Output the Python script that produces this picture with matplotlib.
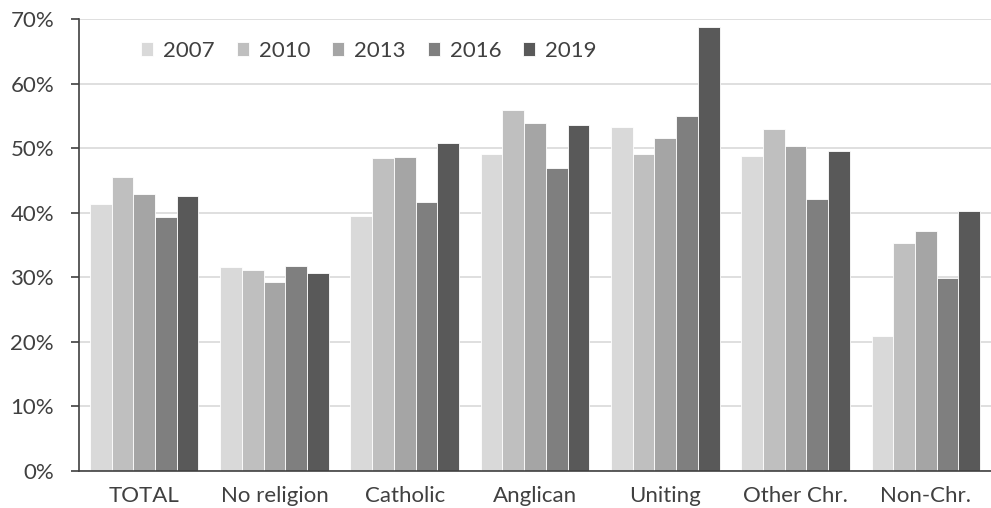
import numpy as np
import matplotlib.pyplot as plt
from matplotlib.ticker import PercentFormatter

categories = ["TOTAL", "No religion", "Catholic", "Anglican", "Uniting", "Other Chr.", "Non-Chr."]
years = ["2007", "2010", "2013", "2016", "2019"]
colors = ["#d9d9d9", "#bfbfbf", "#a5a5a5", "#7f7f7f", "#595959"]

v2007 = [41.3, 31.6, 39.5, 49.1, 53.2, 48.8, 20.9]
v2010 = [45.5, 31.1, 48.4, 55.9, 49.1, 53.0, 35.3]
v2013 = [42.9, 29.3, 48.6, 53.9, 51.6, 50.4, 37.2]
v2016 = [39.4, 31.7, 41.6, 46.9, 55.0, 42.2, 29.9]
v2019 = [42.6, 30.6, 50.8, 53.6, 68.8, 49.5, 40.3]
series = [v2007, v2010, v2013, v2016, v2019]

plt.rcParams['font.family'] = ['Lato', 'DejaVu Sans']

fig = plt.figure(figsize=(9.91, 5.08), dpi=100)
ax = fig.add_axes([79 / 991, 37 / 508, 912 / 991, 452 / 508])

x = np.arange(len(categories))
w = 1 / 6
for i, (vals, col, yr) in enumerate(zip(series, colors, years)):
    ax.bar(x + (i - 2) * w, vals, w, color=col, edgecolor="white", linewidth=0.6,
           label=yr, zorder=2)

ax.set_xlim(-0.5, len(categories) - 0.5)
ax.set_ylim(0, 70)
ax.set_yticks(np.arange(0, 71, 10))
ax.yaxis.set_major_formatter(PercentFormatter(decimals=0))
ax.set_xticks(x)
ax.set_xticklabels(categories)

ax.grid(axis="y", color="#d9d9d9", linewidth=1.2, zorder=0)
ax.set_axisbelow(True)
for s in ("top", "right"):
    ax.spines[s].set_visible(False)
ax.spines["left"].set_color("#404040")
ax.spines["bottom"].set_color("#404040")
ax.spines["left"].set_linewidth(1.2)
ax.spines["bottom"].set_linewidth(1.2)
ax.tick_params(axis="y", length=6, width=1.2, color="#404040", labelsize=16,
               labelcolor="#404040", pad=12)
ax.tick_params(axis="x", length=0, labelsize=16, labelcolor="#404040", pad=11)

ax.legend(loc="upper left", bbox_to_anchor=(0.046, 0.996), ncol=5, frameon=False,
          fontsize=16, handlelength=0.55, handleheight=0.55, handletextpad=0.45,
          columnspacing=0.98, labelcolor="#404040")

fig.savefig("out.png", dpi=100)
